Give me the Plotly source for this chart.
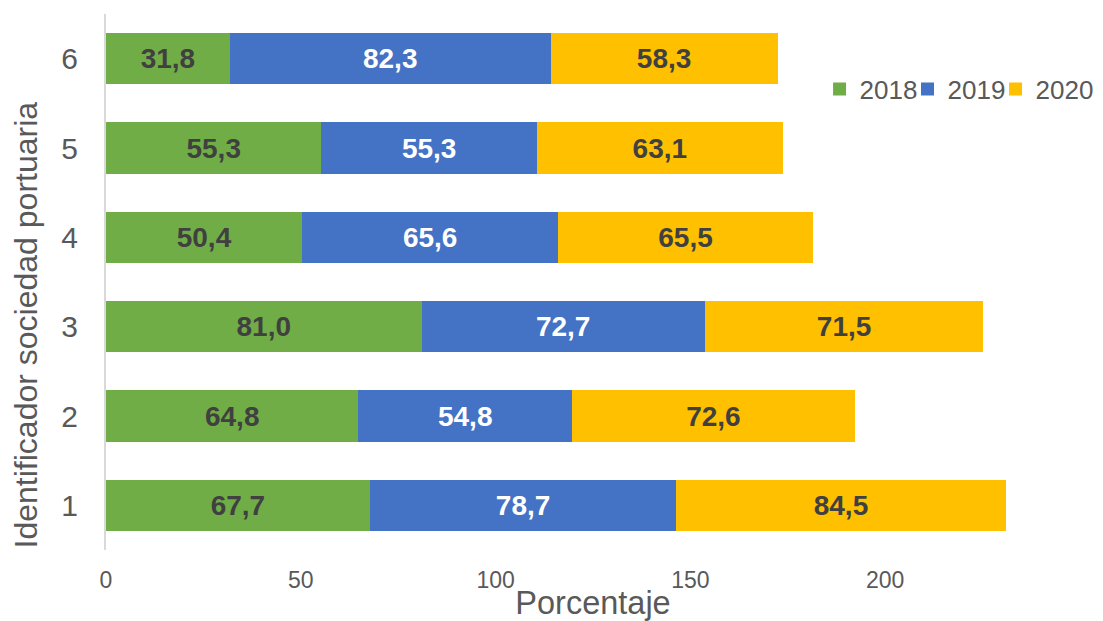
import plotly.graph_objects as go

categories = ["1", "2", "3", "4", "5", "6"]
v2018 = [67.7, 64.8, 81.0, 50.4, 55.3, 31.8]
v2019 = [78.7, 54.8, 72.7, 65.6, 55.3, 82.3]
v2020 = [84.5, 72.6, 71.5, 65.5, 63.1, 58.3]
series_names = ["2018", "2019", "2020"]
colors = ["#70AD47", "#4472C4", "#FFC000"]
label_colors = ["#404040", "#FFFFFF", "#404040"]

legend_ids = ["legend", "legend2", "legend3"]
legend_x = [0.7326, 0.8229, 0.9133]

fig = go.Figure()
for name, vals, c, lc in zip(series_names, [v2018, v2019, v2020], colors, label_colors):
    fig.add_trace(go.Bar(
        y=categories, x=vals, name=name, orientation="h", showlegend=False,
        marker=dict(color=c, line=dict(width=0)),
        texttemplate="%{x:.1f}", textposition="inside", insidetextanchor="middle",
        textfont=dict(family="Arial, Liberation Sans", size=28, color=lc, weight="bold"),
        constraintext="none",
    ))
for name, c, lid in zip(series_names, colors, legend_ids):
    fig.add_trace(go.Scatter(
        x=[None], y=[None], mode="markers", name=name, legend=lid,
        marker=dict(symbol="square", size=13, color=c, line=dict(width=0)),
    ))

legend_style = dict(orientation="h", xanchor="left", y=0.860, yanchor="middle",
                    font=dict(size=26, color="#595959"), itemwidth=30,
                    bgcolor="rgba(0,0,0,0)", borderwidth=0)

fig.update_layout(
    barmode="stack", bargap=0.425,
    separators=",.",
    width=1095, height=613,
    margin=dict(l=98, r=23, t=6, b=71, autoexpand=False),
    plot_bgcolor="white", paper_bgcolor="white",
    font=dict(family="Arial, Liberation Sans", color="#595959"),
    legend=dict(x=legend_x[0], **legend_style),
    legend2=dict(x=legend_x[1], **legend_style),
    legend3=dict(x=legend_x[2], **legend_style),
    xaxis=dict(range=[0, 250], tickvals=[0, 50, 100, 150, 200], showgrid=False,
               zeroline=False, showline=False, ticks="", automargin=False,
               ticklabelstandoff=14,
               tickfont=dict(size=23, color="#595959"),
               title=dict(text="Porcentaje", font=dict(size=32.5, color="#595959"), standoff=0)),
    yaxis=dict(categoryorder="array", categoryarray=categories, showgrid=False,
               zeroline=False, showline=True, linecolor="#D9D9D9", linewidth=2,
               ticks="", ticklabelstandoff=20, automargin=False,
               tickfont=dict(size=30, color="#595959")),
    annotations=[dict(text="Identificador sociedad portuaria", textangle=-90,
                      xref="paper", yref="paper", x=0, xshift=-80, xanchor="center",
                      y=0.419, yanchor="middle", showarrow=False,
                      font=dict(size=32, color="#595959"))],
)

fig.write_html("out.html")
